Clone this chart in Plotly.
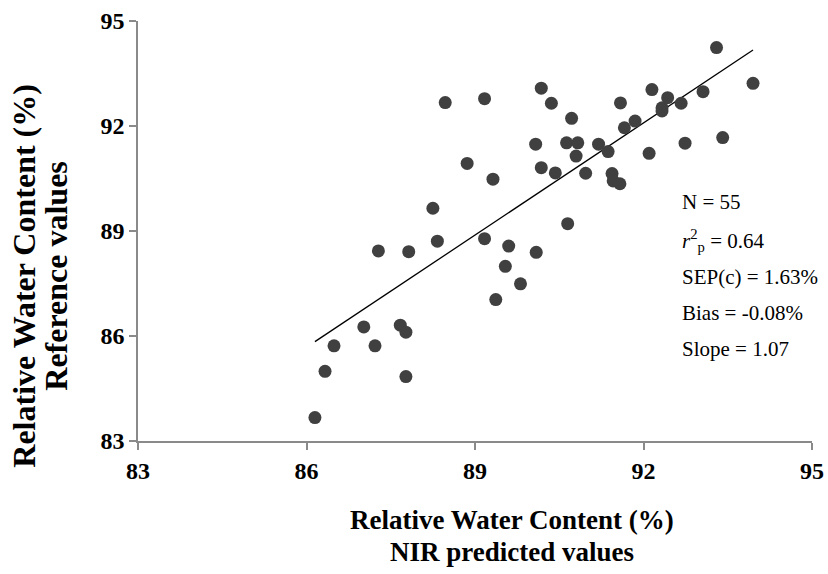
import numpy as np
import plotly.graph_objects as go

# NIR predicted values (x) and reference values (y)
nir_predicted = [86.15, 86.33, 86.49, 87.02, 87.22, 87.67, 87.77, 87.77, 87.28, 87.82,
                 88.33, 88.47, 88.86, 88.25, 89.17, 93.30, 93.95, 90.18, 90.36, 90.72,
                 90.08, 90.63, 90.83, 90.80, 91.20, 91.37, 90.18, 90.43, 90.97, 91.44,
                 91.46, 91.58, 92.10, 91.66, 91.85, 91.59, 92.15, 92.43, 92.33, 92.33,
                 92.67, 93.06, 92.74, 93.41, 89.32, 90.65, 89.17, 89.60, 90.09, 89.54,
                 89.81, 89.37]
reference_values = [83.67, 84.99, 85.72, 86.26, 85.72, 86.31, 86.11, 84.84, 88.43, 88.41,
                    88.71, 92.67, 90.93, 89.65, 92.78, 94.24, 93.22, 93.08, 92.65, 92.22,
                    91.48, 91.52, 91.52, 91.14, 91.48, 91.27, 90.81, 90.66, 90.65, 90.64,
                    90.43, 90.35, 91.22, 91.95, 92.14, 92.66, 93.04, 92.81, 92.52, 92.43,
                    92.65, 92.98, 91.51, 91.67, 90.48, 89.21, 88.78, 88.57, 88.39, 87.99,
                    87.49, 87.04]

tick_values = [83, 86, 89, 92, 95]
x_title_lines = ["Relative Water Content (%)", "NIR predicted values"]
y_title_lines = ["Relative Water Content (%)", "Reference values"]
stats_lines = ["N = 55",
               "<i>r</i><sup>2</sup><sub>p</sub> = 0.64",
               "SEP(c) = 1.63%",
               "Bias = -0.08%",
               "Slope = 1.07"]

x = np.array(nir_predicted)
y = np.array(reference_values)
slope, intercept = np.polyfit(x, y, 1)
fx = np.array([x.min(), x.max()])
fy = slope * fx + intercept

FONT = "Liberation Serif"

# plot-area pixel frame
L, R, T, B = 137.5, 811.7, 20.5, 441.0
W, H = 828, 574

def px(xp):
    return (xp - L) / (R - L)

def py(yp):
    return (B - yp) / (B - T)

fig = go.Figure()
fig.add_trace(go.Scatter(x=fx, y=fy, mode="lines",
                         line=dict(color="black", width=1.3),
                         hoverinfo="skip", showlegend=False))
fig.add_trace(go.Scatter(x=x, y=y, mode="markers",
                         marker=dict(color="#404040", size=13, line=dict(width=0)),
                         showlegend=False))

axis_common = dict(range=[83, 95], tickvals=tick_values, showgrid=False, zeroline=False,
                   showline=True, linecolor="#8a8a8a", linewidth=1.5, automargin=False,
                   ticks="outside", ticklen=7, tickwidth=1.5, tickcolor="#8a8a8a",
                   tickfont=dict(family=FONT, size=24, color="black", weight="bold"))
fig.update_xaxes(**axis_common)
fig.update_yaxes(**axis_common, ticksuffix="\u00a0")

annotations = []
for txt, ly in zip(x_title_lines, [520, 552]):
    annotations.append(dict(text="<b>" + txt + "</b>", xref="paper", yref="paper",
                            x=px(512), y=py(ly), xanchor="center", yanchor="middle",
                            showarrow=False, font=dict(family=FONT, size=27, color="black")))
for txt, lx in zip(y_title_lines, [24, 56]):
    annotations.append(dict(text="<b>" + txt + "</b>", xref="paper", yref="paper",
                            x=px(lx), y=py(276), xanchor="center", yanchor="middle",
                            textangle=-90, showarrow=False,
                            font=dict(family=FONT, size=32, color="black")))
line_y = [202, 240, 277, 313, 349]
for txt, ly in zip(stats_lines, line_y):
    annotations.append(dict(text=txt, xref="paper", yref="paper",
                            x=px(680), y=py(ly),
                            xanchor="left", yanchor="middle", showarrow=False,
                            font=dict(family=FONT, size=21, color="black")))

fig.update_layout(width=W, height=H,
                  margin=dict(l=L, r=W - R, t=T, b=H - B),
                  paper_bgcolor="white", plot_bgcolor="white",
                  annotations=annotations)

fig.write_html("out.html")
